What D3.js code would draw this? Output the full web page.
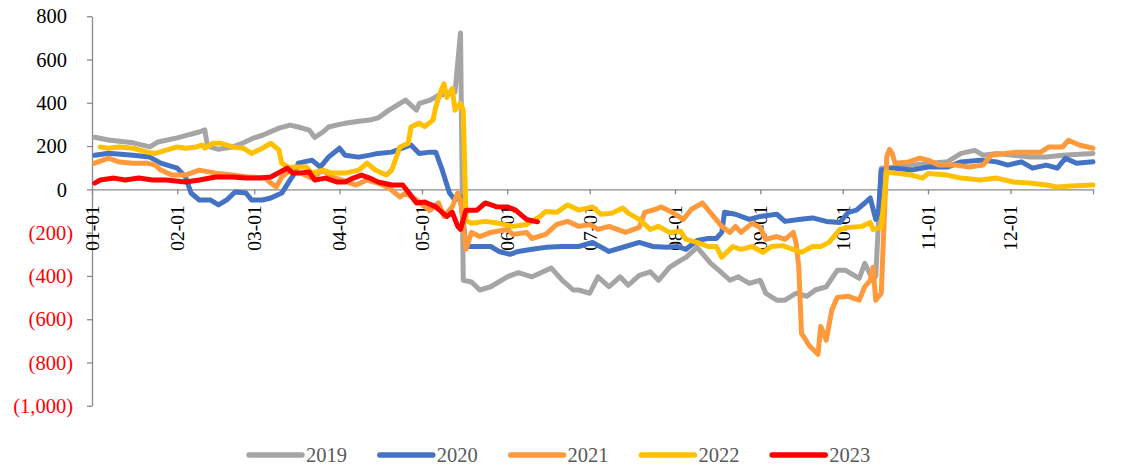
<!DOCTYPE html>
<html><head><meta charset="utf-8">
<script src="https://cdn.jsdelivr.net/npm/d3@7"></script>
<style>html,body{margin:0;padding:0;background:#fff;} svg{display:block;}</style>
</head><body>
<svg id="chart" width="1127" height="468"></svg>
<script>
// ---------------- DATA ----------------
const seriesNames = ["2019", "2020", "2021", "2022", "2023"];
const yTickValues = [-1000, -800, -600, -400, -200, 0, 200, 400, 600, 800];
const xTickLabels = ["01-01","02-01","03-01","04-01","05-01","06-01","07-01","08-01","09-01","10-01","11-01","12-01"];

const dates2019 = ["01-02","01-07","01-11","01-16","01-22","01-25","02-01","02-04","02-09","02-11","02-12","02-16","02-21","02-25","03-01","03-04","03-10","03-14","03-17","03-21","03-23","03-26","03-28","04-01","04-03","04-08","04-12","04-15","04-19","04-25","04-29","04-30","05-04","05-07","05-10","05-13","05-15","05-16","05-19","05-22","05-26","06-01","06-05","06-10","06-14","06-17","06-21","06-25","06-27","07-01","07-04","07-08","07-12","07-15","07-19","07-23","07-26","07-30","08-03","08-05","08-09","08-10","08-14","08-17","08-21","08-24","08-28","09-01","09-03","09-07","09-10","09-14","09-18","09-21","09-25","09-29","10-02","10-07","10-09","10-12","10-13","10-15","10-20","11-01","11-08","11-13","11-18","11-21","11-26","12-02","12-08","12-14","12-20","12-26","12-31"];
const values2019 = [241,228,222,215,196,219,238,248,265,275,200,185,195,215,238,250,283,297,288,274,240,265,288,300,305,315,320,330,366,412,366,397,412,435,440,450,722,-420,-428,-465,-450,-404,-385,-404,-381,-364,-420,-465,-465,-480,-404,-450,-404,-443,-397,-381,-420,-360,-328,-314,-268,-282,-342,-374,-420,-404,-434,-420,-480,-512,-512,-480,-494,-465,-450,-374,-374,-411,-342,-420,-400,98,103,120,127,166,180,158,166,158,149,149,158,162,166];

const dates2020 = ["01-02","01-07","01-16","01-22","01-26","02-01","02-04","02-06","02-09","02-13","02-16","02-19","02-22","02-26","02-28","03-04","03-07","03-11","03-14","03-16","03-17","03-22","03-25","03-28","04-01","04-03","04-08","04-12","04-15","04-20","04-25","04-27","04-30","05-04","05-06","05-08","05-11","05-13","05-15","05-17","05-22","05-26","05-29","06-02","06-05","06-10","06-15","06-21","06-27","07-02","07-08","07-14","07-19","07-24","07-29","08-02","08-05","08-09","08-13","08-16","08-18","08-19","08-23","08-28","09-01","09-07","09-10","09-15","09-20","09-25","09-30","10-03","10-06","10-09","10-11","10-13","10-14","10-15","10-20","10-26","11-01","11-08","11-13","11-20","11-26","11-30","12-05","12-09","12-14","12-18","12-21","12-25","12-31"];
const values2020 = [158,167,158,149,121,98,57,-17,-49,-49,-72,-49,-12,-17,-49,-49,-40,-17,43,80,121,135,103,149,190,158,149,158,166,172,196,205,166,172,172,103,-17,-49,-35,-264,-264,-264,-287,-300,-287,-277,-268,-264,-264,-245,-287,-264,-245,-264,-268,-264,-277,-236,-227,-227,-199,-106,-115,-139,-125,-115,-148,-139,-132,-148,-153,-106,-96,-63,-40,-139,-100,89,98,89,103,103,127,135,127,112,127,98,112,98,144,121,127];

const dates2021 = ["01-02","01-07","01-11","01-16","01-21","01-24","01-26","01-30","02-04","02-09","02-15","02-21","02-27","03-05","03-07","03-09","03-11","03-14","03-15","03-18","03-22","03-26","03-29","04-02","04-07","04-11","04-15","04-19","04-23","04-25","04-29","05-02","05-04","05-07","05-09","05-12","05-14","05-15","05-17","05-19","05-22","05-26","06-01","06-03","06-08","06-10","06-15","06-19","06-23","06-27","07-01","07-04","07-08","07-14","07-19","07-21","07-25","07-27","07-31","08-04","08-07","08-11","08-15","08-18","08-21","08-23","08-25","08-29","09-01","09-03","09-07","09-10","09-13","09-14","09-15","09-16","09-19","09-22","09-23","09-25","09-27","09-29","10-03","10-07","10-09","10-11","10-12","10-13","10-15","10-17","10-18","10-19","10-20","10-25","10-29","11-01","11-05","11-11","11-16","11-21","11-24","11-29","12-03","12-08","12-12","12-15","12-20","12-22","12-26","12-31"];
const values2021 = [121,144,126,121,121,112,89,66,66,89,75,66,57,52,29,11,57,89,80,75,52,89,57,43,20,43,29,6,-35,-17,-49,-81,-96,-63,-125,-81,-17,-49,-277,-199,-218,-199,-185,-208,-199,-227,-208,-162,-148,-171,-162,-185,-171,-199,-176,-106,-92,-81,-106,-139,-92,-63,-125,-171,-199,-171,-199,-157,-176,-231,-218,-231,-199,-245,-356,-665,-725,-762,-633,-697,-559,-500,-494,-512,-450,-420,-360,-512,-480,150,185,166,121,127,144,135,112,112,103,112,158,166,172,172,172,196,196,227,205,190];

const dates2022 = ["01-04","01-07","01-11","01-16","01-21","01-24","01-28","02-01","02-04","02-08","02-10","02-11","02-14","02-17","02-21","02-25","02-28","03-04","03-07","03-10","03-11","03-14","03-15","03-20","03-22","03-26","03-29","04-03","04-08","04-11","04-14","04-18","04-20","04-23","04-26","04-27","04-30","05-02","05-05","05-06","05-08","05-09","05-10","05-12","05-13","05-15","05-16","05-17","05-19","05-24","05-29","06-03","06-08","06-13","06-15","06-19","06-23","06-27","07-02","07-05","07-09","07-13","07-15","07-19","07-23","07-26","07-30","08-03","08-05","08-09","08-13","08-16","08-18","08-22","08-25","08-29","09-02","09-05","09-09","09-13","09-16","09-20","09-23","09-26","09-30","10-03","10-08","10-11","10-12","10-15","10-17","10-20","10-26","10-30","11-01","11-08","11-13","11-20","11-26","12-02","12-08","12-14","12-18","12-23","12-31"];
const values2022 = [196,190,196,190,172,166,181,196,190,196,205,190,213,213,196,190,166,190,213,181,121,98,103,103,75,89,75,75,89,121,89,66,89,196,213,288,306,290,320,380,459,488,425,465,366,397,366,-142,-157,-148,-157,-171,-162,-125,-102,-106,-72,-96,-81,-115,-110,-86,-110,-139,-185,-171,-199,-194,-231,-245,-264,-264,-314,-264,-277,-264,-291,-264,-260,-277,-291,-264,-264,-245,-185,-176,-171,-153,-185,-176,80,75,66,52,73,66,52,43,52,34,29,20,11,15,20];

const dates2023 = ["01-02","01-04","01-09","01-13","01-18","01-23","01-28","02-04","02-09","02-15","02-21","02-26","03-03","03-07","03-13","03-15","03-17","03-21","03-23","03-27","03-31","04-03","04-06","04-09","04-12","04-15","04-20","04-24","04-26","04-29","05-02","05-06","05-10","05-12","05-14","05-15","05-17","05-21","05-24","05-28","06-01","06-04","06-08","06-12"];
const values2023 = [29,43,52,43,52,43,43,34,43,57,57,52,52,57,98,75,75,80,43,52,34,34,52,66,52,34,20,20,-12,-63,-58,-81,-125,-106,-171,-185,-96,-96,-63,-80,-81,-96,-139,-150];

// ---------------- STYLE ----------------
const seriesColors = ["#A5A5A5", "#4472C4", "#FF9A3C", "#FFC000", "#FF0000"];
const W = 1127, H = 468;
const plot = {left: 92, right: 1093, top: 16.2, bottom: 405.8};

const parseDate = d3.timeParse("%Y-%m-%d");
const toDate = s => parseDate("2021-" + s);

const allDates = [dates2019, dates2020, dates2021, dates2022, dates2023];
const allValues = [values2019, values2020, values2021, values2022, values2023];
const series = seriesNames.map((name, i) => {
  const n = Math.min(allDates[i].length, allValues[i].length);
  return {name, color: seriesColors[i],
    points: d3.range(n).map(k => ({date: toDate(allDates[i][k]), value: allValues[i][k]}))};
});

const svg = d3.select("#chart");
svg.append("rect").attr("width", W).attr("height", H).attr("fill", "#fff");

const x = d3.scaleTime().domain([toDate("01-01"), toDate("12-31")]).range([plot.left, plot.right]);
const y = d3.scaleLinear().domain([-1000, 800]).range([plot.bottom, plot.top]);

const axisColor = "#898989";
const fontFamily = "'Liberation Serif','Times New Roman',serif";
const numFmt = d3.format(",");

// Y axis
const yAxis = svg.append("g").attr("transform", `translate(${plot.left},0)`)
  .call(d3.axisLeft(y).tickValues(yTickValues).tickSize(5).tickSizeOuter(0).tickFormat(""));
yAxis.selectAll("path.domain").attr("stroke", axisColor).attr("stroke-width", 1.3);
yAxis.selectAll(".tick line").attr("stroke", axisColor).attr("stroke-width", 1.3);

svg.append("g").selectAll("text").data(yTickValues).join("text")
  .attr("x", d => d < 0 ? 73 : 67)
  .attr("y", d => y(d))
  .attr("dy", "0.35em")
  .attr("text-anchor", "end")
  .attr("font-family", fontFamily)
  .attr("font-size", "20.5px")
  .attr("fill", d => d < 0 ? "#FF0000" : "#000")
  .text(d => d < 0 ? "(" + numFmt(-d) + ")" : numFmt(d));

// X axis (at value 0)
const xTickDates = xTickLabels.map(toDate).concat([toDate("12-31")]);
const xAxis = svg.append("g").attr("transform", `translate(0,${y(0)})`)
  .call(d3.axisBottom(x).tickValues(xTickDates).tickSize(5).tickSizeOuter(0).tickFormat(""));
xAxis.selectAll("path.domain").attr("stroke", axisColor).attr("stroke-width", 1.3);
xAxis.selectAll(".tick line").attr("stroke", axisColor).attr("stroke-width", 1.3);

svg.append("g").selectAll("text").data(xTickLabels).join("text")
  .attr("transform", d => `translate(${x(toDate(d))},${y(0) + 16}) rotate(-90)`)
  .attr("dy", "0.35em")
  .attr("text-anchor", "end")
  .attr("font-family", fontFamily)
  .attr("font-size", "19.5px")
  .attr("fill", "#000")
  .text(d => d);

// Lines
const line = d3.line().x(d => x(d.date)).y(d => y(d.value));
svg.append("g").selectAll("path").data(series).join("path")
  .attr("d", s => line(s.points))
  .attr("fill", "none")
  .attr("stroke", s => s.color)
  .attr("stroke-width", 5)
  .attr("stroke-linejoin", "round")
  .attr("stroke-linecap", "round");

// Legend
const legendX0 = 249, legendStep = 130.8, legendY = 455;
const lg = svg.append("g").selectAll("g").data(series).join("g")
  .attr("transform", (d, i) => `translate(${legendX0 + i * legendStep},${legendY})`);
lg.append("line").attr("x1", 0).attr("x2", 53).attr("y1", 0).attr("y2", 0)
  .attr("stroke", d => d.color).attr("stroke-width", 5.5).attr("stroke-linecap", "round");
lg.append("text").attr("x", 57).attr("y", 7)
  .attr("font-family", fontFamily).attr("font-size", "20.5px").attr("fill", "#595959")
  .text(d => d.name);
</script>
</body></html>
